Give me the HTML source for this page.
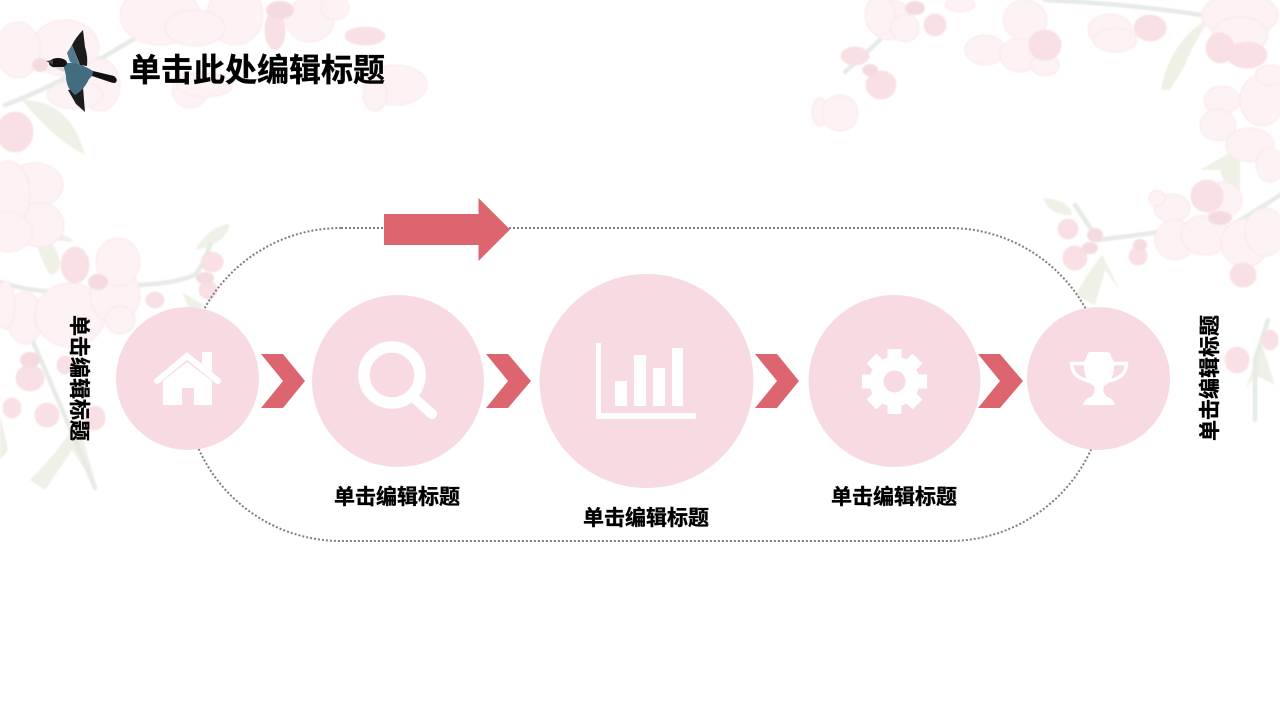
<!DOCTYPE html>
<html><head><meta charset="utf-8"><style>
html,body{margin:0;padding:0;background:#fff;width:1280px;height:720px;overflow:hidden}
svg{display:block}
text{font-family:"Liberation Sans","Noto Sans CJK SC",sans-serif;font-weight:700;fill:#000;stroke:#000;stroke-width:.35}
.p ellipse{fill:#fdf2f4;stroke:#fae8eb;stroke-width:1}
.b ellipse{fill:#f9e0e4;stroke:#f8d9de;stroke-width:.6}
.c ellipse{fill:#f4dbdf}
.l path{fill:#eff0e6}
.s path{fill:none;stroke:#e6ebe6;stroke-width:4.500;stroke-linecap:round}
</style></head><body>
<svg width="1280" height="720" viewBox="0 0 1280 720" xmlns="http://www.w3.org/2000/svg">
<defs><filter id="f" x="-5%" y="-5%" width="110%" height="110%"><feGaussianBlur stdDeviation="0.7"/></filter></defs>
<rect width="1280" height="720" fill="#fff"/>
<g filter="url(#f)">
<g class="l">
<path d="M22 100Q70 100 85 155Q55 140 22 100Z"/>
<path d="M35 228Q75 235 72 242L50 240Q70 270 50 275Q35 250 35 228Z"/>
<path d="M195 250Q210 225 230 224Q225 245 195 250Z"/>
<path d="M30 480Q60 450 78 420L97 488L72 450L45 490Z"/>
<path d="M0 415L8 450L0 460Z"/>
<path d="M182 292L205 306L190 310Z"/>
<path d="M1161 90Q1170 40 1210 18Q1190 50 1185 65L1170 90Z"/>
<path d="M1200 170Q1225 155 1240 148L1240 200Q1225 190 1220 170Z"/>
<path d="M1043 198Q1070 200 1072 215Q1050 216 1043 198Z"/>
<path d="M1075 295Q1090 270 1102 255L1120 290L1105 270L1095 305Z"/>
<path d="M1245 390L1262 345L1275 385L1255 375Z"/>
</g>
<g class="s">
<path d="M5 105Q60 85 145 32"/>
<path d="M0 282Q40 295 75 290"/>
<path d="M130 285Q170 285 195 275Q205 262 210 245"/>
<path d="M30 335Q50 380 95 488"/>
<path d="M1045 0Q1150 5 1230 20"/>
<path d="M880 40L845 72"/>
<path d="M1098 240L1160 232"/>
<path d="M1075 205L1095 235"/>
<path d="M1280 195Q1250 215 1215 235"/>
<path d="M1268 320L1255 360L1255 420"/>
</g>
<g class="p">
<ellipse cx="160" cy="15" rx="40" ry="30"/><ellipse cx="235" cy="15" rx="28" ry="30"/><ellipse cx="195" cy="28" rx="30" ry="18"/>
<ellipse cx="310" cy="20" rx="24" ry="22"/><ellipse cx="335" cy="8" rx="14" ry="12"/>
<ellipse cx="65" cy="48" rx="34" ry="28"/><ellipse cx="18" cy="50" rx="22" ry="28"/><ellipse cx="100" cy="85" rx="20" ry="26"/><ellipse cx="75" cy="95" rx="28" ry="14"/>
<ellipse cx="395" cy="85" rx="32" ry="20"/><ellipse cx="375" cy="95" rx="12" ry="16"/>
<ellipse cx="190" cy="90" rx="18" ry="18"/><ellipse cx="205" cy="85" rx="28" ry="12"/>
<ellipse cx="35" cy="185" rx="28" ry="22"/><ellipse cx="40" cy="225" rx="24" ry="22"/><ellipse cx="8" cy="195" rx="22" ry="34"/><ellipse cx="8" cy="232" rx="24" ry="20"/>
<ellipse cx="25" cy="318" rx="18" ry="26"/><ellipse cx="70" cy="315" rx="35" ry="32"/><ellipse cx="115" cy="295" rx="25" ry="28"/><ellipse cx="118" cy="262" rx="22" ry="24"/><ellipse cx="120" cy="320" rx="15" ry="14"/><ellipse cx="5" cy="305" rx="10" ry="24"/>
<ellipse cx="890" cy="20" rx="22" ry="20"/><ellipse cx="880" cy="15" rx="15" ry="20"/><ellipse cx="905" cy="28" rx="14" ry="14"/>
<ellipse cx="820" cy="112" rx="8" ry="14"/><ellipse cx="840" cy="113" rx="18" ry="18"/>
<ellipse cx="985" cy="50" rx="20" ry="15"/><ellipse cx="1020" cy="55" rx="20" ry="17"/><ellipse cx="1025" cy="20" rx="22" ry="20"/><ellipse cx="1045" cy="65" rx="14" ry="11"/>
<ellipse cx="960" cy="5" rx="15" ry="7"/>
<ellipse cx="1110" cy="30" rx="22" ry="16"/><ellipse cx="1115" cy="40" rx="22" ry="12"/><ellipse cx="1240" cy="15" rx="38" ry="22"/><ellipse cx="1240" cy="35" rx="28" ry="18"/>
<ellipse cx="1222" cy="100" rx="18" ry="14"/><ellipse cx="1218" cy="125" rx="18" ry="16"/><ellipse cx="1250" cy="145" rx="24" ry="17"/><ellipse cx="1262" cy="100" rx="22" ry="26"/><ellipse cx="1270" cy="165" rx="14" ry="17"/><ellipse cx="1270" cy="75" rx="15" ry="10"/>
<ellipse cx="1172" cy="208" rx="18" ry="14"/><ellipse cx="1175" cy="240" rx="20" ry="20"/><ellipse cx="1205" cy="235" rx="24" ry="20"/><ellipse cx="1245" cy="243" rx="24" ry="24"/><ellipse cx="1265" cy="232" rx="20" ry="24"/>
<ellipse cx="1157" cy="198" rx="8" ry="8"/><ellipse cx="1222" cy="200" rx="20" ry="18"/>
</g>
<g class="b">
<ellipse cx="15" cy="132" rx="18" ry="20"/><ellipse cx="275" cy="30" rx="10" ry="20"/><ellipse cx="365" cy="36" rx="20" ry="9"/>
<ellipse cx="75" cy="265" rx="14" ry="18"/><ellipse cx="155" cy="300" rx="9" ry="8"/><ellipse cx="212" cy="262" rx="11" ry="10"/><ellipse cx="208" cy="290" rx="9" ry="9"/>
<ellipse cx="30" cy="378" rx="14" ry="13"/><ellipse cx="12" cy="408" rx="9" ry="10"/><ellipse cx="47" cy="415" rx="12" ry="12"/><ellipse cx="95" cy="418" rx="10" ry="12"/><ellipse cx="65" cy="365" rx="8" ry="9"/>
<ellipse cx="935" cy="25" rx="11" ry="11"/><ellipse cx="855" cy="56" rx="14" ry="9"/><ellipse cx="881" cy="85" rx="15" ry="14"/><ellipse cx="1045" cy="45" rx="16" ry="15"/>
<ellipse cx="1150" cy="28" rx="16" ry="13"/><ellipse cx="1220" cy="48" rx="14" ry="15"/><ellipse cx="1247" cy="55" rx="20" ry="13"/>
<ellipse cx="1207" cy="196" rx="16" ry="16"/><ellipse cx="1068" cy="229" rx="10" ry="10"/><ellipse cx="1075" cy="258" rx="12" ry="12"/><ellipse cx="1138" cy="256" rx="9" ry="9"/><ellipse cx="1243" cy="275" rx="13" ry="12"/><ellipse cx="1237" cy="360" rx="12" ry="13"/><ellipse cx="1270" cy="340" rx="8" ry="10"/>
</g>
<g class="c">
<ellipse cx="280" cy="10" rx="14" ry="9"/><ellipse cx="40" cy="65" rx="8" ry="7"/>
<ellipse cx="98" cy="282" rx="10" ry="8"/><ellipse cx="205" cy="278" rx="9" ry="6"/><ellipse cx="30" cy="360" rx="10" ry="8"/>
<ellipse cx="915" cy="8" rx="10" ry="7"/><ellipse cx="870" cy="70" rx="8" ry="6"/>
<ellipse cx="1095" cy="235" rx="8" ry="7"/><ellipse cx="1220" cy="218" rx="12" ry="7"/><ellipse cx="1090" cy="248" rx="8" ry="6"/><ellipse cx="1140" cy="245" rx="7" ry="6"/>
</g>
</g>
<rect x="185" y="228" width="920" height="313" rx="156" ry="156" fill="none" stroke="#7f7f7f" stroke-width="2" stroke-dasharray="2 2"/>
<g fill="#f8dbe2">
<circle cx="187.5" cy="378.5" r="71.5"/><circle cx="398" cy="381" r="86"/><circle cx="646.5" cy="381" r="107"/><circle cx="894.5" cy="381" r="86"/><circle cx="1098.5" cy="378.5" r="71.5"/>
</g>
<g fill="#dd6570">
<polygon points="384,214 478.500,214 478.500,198 510,229.500 478.500,261 478.500,245 384,245"/>
<polygon points="261,354 283,354 305,381 283,408 261,408 283,381"/>
<polygon points="486,354 508,354 531,381 508,408 486,408 508,381"/>
<polygon points="755,354 777,354 799,381 777,408 755,408 777,381"/>
<polygon points="978,354 1000,354 1023,381 1000,408 978,408 1000,381"/>
</g>
<g fill="#fff">
<path d="M157 381L187 356L218 381" fill="none" stroke="#fff" stroke-width="6" stroke-linecap="round"/>
<polygon points="202,352 212,352 212,372 202,364"/>
<path d="M163 381L187 362L212 381V405H194V388H182V405H163Z"/>
<circle cx="392" cy="375" r="28" fill="none" stroke="#fff" stroke-width="11.500"/>
<path d="M413 397L432 414" stroke="#fff" stroke-width="10" stroke-linecap="round"/>
<rect x="596" y="343" width="5" height="76"/><rect x="596" y="413" width="100" height="6"/>
<rect x="615" y="381" width="12" height="25"/><rect x="634" y="355" width="12" height="51"/><rect x="653" y="368" width="12" height="38"/><rect x="672" y="348" width="11" height="58"/>
<g transform="translate(894.500 381.500)">
<circle r="25"/>
<rect x="-7" y="-32.500" width="14" height="65"/>
<rect x="-7" y="-32.500" width="14" height="65" transform="rotate(45)"/>
<rect x="-7" y="-32.500" width="14" height="65" transform="rotate(90)"/>
<rect x="-7" y="-32.500" width="14" height="65" transform="rotate(135)"/>
<circle r="11" fill="#f8dbe2"/>
</g>
<path d="M1087 356Q1087 352 1091 352H1107Q1111 352 1111 356L1114 362V370Q1112 382 1104 386Q1102 392 1107 397Q1113 398 1115 405H1083Q1085 398 1091 397Q1096 392 1094 386Q1086 382 1084 370V362Z"/>
<path d="M1085 363.500H1071.500Q1072 378 1090 381M1113 363.500H1126.500Q1126 378 1108 381" fill="none" stroke="#fff" stroke-width="3.500"/>
</g>
<path d="M83 30L85 47Q88 56 87 66L80 65L72 45Q76 37 83 30Z" fill="#1c1c1c"/>
<path d="M72 45L67 53L70 62L80 66Z" fill="#4f7a90"/>
<path d="M85 112L76 104L68 90L83 87Q84 100 85 112Z" fill="#1c1c1c"/>
<path d="M63 64Q75 60 93 71L92 76L89 79Q84 90 75 95Q66 88 66 76Z" fill="#446c80"/>
<path d="M93 71L114 76Q119 80 115 83Q112 83 107 81L92 76Z" fill="#111"/>
<ellipse cx="58" cy="63" rx="9" ry="5" fill="#111"/><path d="M46 61L53 60V65Z" fill="#444"/><path d="M53 67L64 72L64 67Z" fill="#d8d8d8"/>
<text x="129" y="81" font-size="32">单击此处编辑标题</text>
<text x="334" y="504" font-size="21">单击编辑标题</text>
<text x="583" y="525" font-size="21">单击编辑标题</text>
<text x="831" y="504" font-size="21">单击编辑标题</text>
<text transform="translate(72 315) rotate(90)" font-size="21">单击编辑标题</text>
<text transform="translate(1217 441) rotate(-90)" font-size="21">单击编辑标题</text>
</svg>
</body></html>
